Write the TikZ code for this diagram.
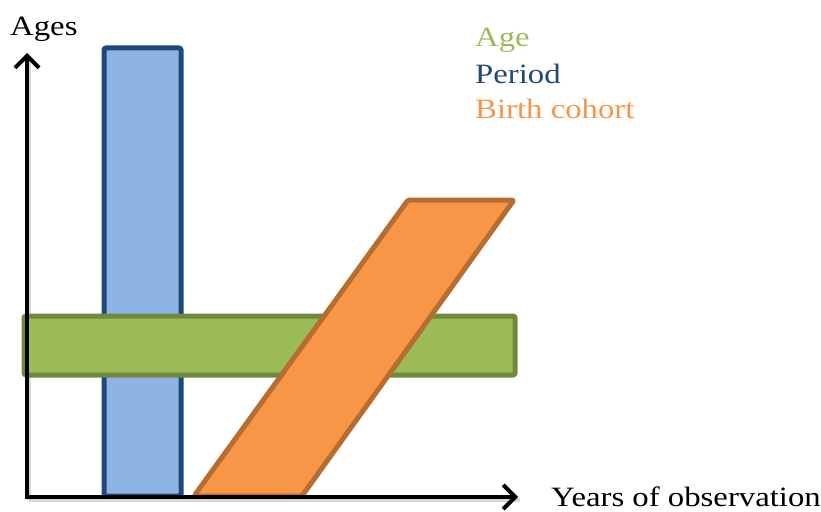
\documentclass[tikz,border=0pt]{standalone}
\usepackage{fontspec}
\setmainfont[FakeStretch=1.17]{Liberation Serif}
\usetikzlibrary{arrows.meta}
\definecolor{pblue}{HTML}{8EB4E3}
\definecolor{pbluedk}{HTML}{1F497D}
\definecolor{agreen}{HTML}{9BBB59}
\definecolor{agreendk}{HTML}{71893F}
\definecolor{corange}{HTML}{F79646}
\definecolor{corangedk}{HTML}{B66D31}
\begin{document}
\begin{tikzpicture}[x=1pt,y=-1pt,
  band/.style={line width=5pt,rounded corners=1.5pt,line join=round},
  axis/.style={line width=4pt,-{Straight Barb[length=12pt,width=24pt,line width=4pt]}},
  axshadow/.style={line width=4pt,black!25,opacity=0.6},
  lbl/.style={font=\fontsize{28}{30}\selectfont,anchor=base west,inner sep=0pt}]
\useasboundingbox (0,0) rectangle (821,511);
\coordinate (origin) at (27,497);
\coordinate (ytop) at (27,53);
\coordinate (xend) at (518,497);
% shadows
\draw[axshadow] ([shift={(2,3)}]origin) -- ([shift={(2,3)}]ytop);
\draw[axshadow] ([shift={(2,3)}]origin) -- ([shift={(2,3)}]xend);
% period (blue)
\draw[band,draw=pbluedk,fill=pblue] (104,48) rectangle (181,496);
% age (green)
\draw[band,draw=agreendk,fill=agreen] (24,316) rectangle (515,375);
% birth cohort (orange)
\draw[band,draw=corangedk,fill=corange] (194,496) -- (302,496) -- (514,200) -- (408,200) -- cycle;
% axes
\draw[axis] ([yshift=2pt]origin) -- (ytop);
\draw[axis] ([xshift=-2pt]origin) -- (xend);
% labels
\node[lbl] (ages) at (10,36) {Ages};
\node[lbl,text depth=0pt] (years) at (551,506) {Years of observation};
\node[lbl,text=agreen] (lage) at (475,47) {Age};
\node[lbl,text=pbluedk] (lperiod) at (475,83) {Period};
\node[lbl,text=corange] (lcohort) at (475,118) {Birth cohort};
\end{tikzpicture}
\end{document}
